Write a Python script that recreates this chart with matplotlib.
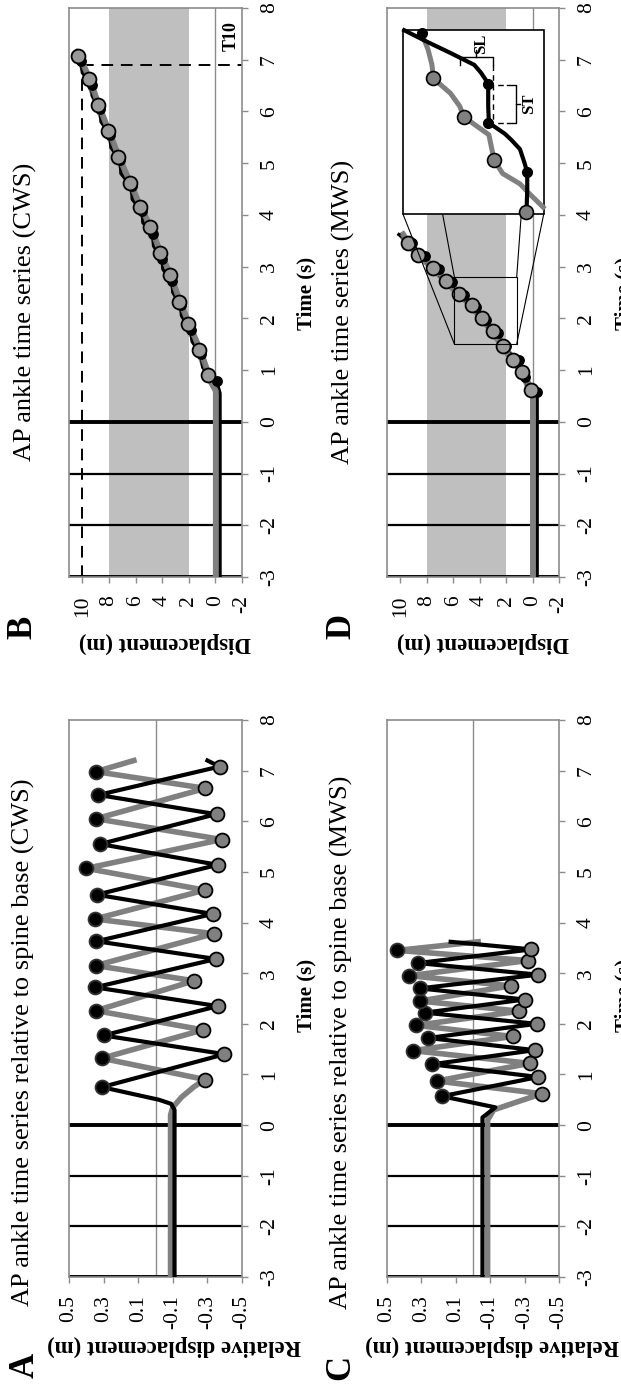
import matplotlib
matplotlib.use("Agg")
import matplotlib.pyplot as plt
from matplotlib.patches import Rectangle

plt.rcParams['font.family'] = ['Liberation Serif', 'DejaVu Serif']

# ---------------- data ----------------
time_ticks = [-3, -2, -1, 0, 1, 2, 3, 4, 5, 6, 7, 8]
rel_ticks = [0.5, 0.3, 0.1, -0.1, -0.3, -0.5]
rel_tick_labels = ["0.5", "0.3", "0.1", "-0.1", "-0.3", "-0.5"]
disp_ticks = [10, 8, 6, 4, 2, 0, -2]
event_lines_t = [-3, -2, -1, 0]
event_lines_w = [2.8, 1.6, 1.6, 2.8]

# Panel A: CWS relative displacement
A_black_t = [-3, 0.3, 0.42, 0.5, 0.75, 1.4, 1.77, 2.35, 2.72, 3.28, 3.63, 4.17, 4.55, 5.14, 5.55, 6.14, 6.52, 7.08, 7.2]
A_black_d = [-0.11, -0.11, -0.09, -0.02, 0.31, -0.40, 0.30, -0.36, 0.35, -0.35, 0.34, -0.33, 0.34, -0.36, 0.32, -0.35, 0.33, -0.37, -0.30]
A_gray_t = [-3, 0.2, 0.35, 0.55, 0.75, 0.9, 1.32, 1.88, 2.26, 2.85, 3.15, 3.78, 4.07, 4.64, 5.07, 5.64, 6.05, 6.65, 6.98, 7.2]
A_gray_d = [-0.087, -0.087, -0.1, -0.15, -0.22, -0.285, 0.31, -0.275, 0.344, -0.223, 0.346, -0.338, 0.35, -0.285, 0.40, -0.383, 0.344, -0.289, 0.344, 0.125]
A_peak_t = [0.75, 1.32, 1.77, 2.26, 2.72, 3.15, 3.63, 4.07, 4.55, 5.07, 5.55, 6.05, 6.52, 6.98]
A_peak_d = [0.31, 0.31, 0.295, 0.344, 0.348, 0.346, 0.344, 0.35, 0.336, 0.40, 0.32, 0.344, 0.33, 0.344]
A_trough_t = [0.9, 1.4, 1.88, 2.35, 2.85, 3.28, 3.78, 4.17, 4.64, 5.14, 5.64, 6.14, 6.65, 7.08]
A_trough_d = [-0.285, -0.398, -0.275, -0.363, -0.223, -0.348, -0.338, -0.332, -0.285, -0.363, -0.383, -0.353, -0.289, -0.373]

# Panel C: MWS relative displacement
C_black_t = [-3, 0.15, 0.35, 0.57, 0.95, 1.2, 1.48, 1.72, 2.0, 2.22, 2.48, 2.70, 2.97, 3.2, 3.47, 3.62]
C_black_d = [-0.055, -0.055, -0.13, 0.18, -0.38, 0.24, -0.36, 0.26, -0.37, 0.28, -0.30, 0.31, -0.38, 0.32, -0.34, 0.13]
C_gray_t = [-3, 0.1, 0.3, 0.45, 0.62, 0.87, 1.22, 1.47, 1.75, 1.97, 2.25, 2.45, 2.75, 2.95, 3.25, 3.45, 3.62]
C_gray_d = [-0.085, -0.085, -0.12, -0.25, -0.40, 0.21, -0.33, 0.35, -0.23, 0.33, -0.27, 0.31, -0.22, 0.37, -0.32, 0.44, -0.03]
C_peak_t = [0.57, 0.87, 1.2, 1.47, 1.72, 1.97, 2.22, 2.45, 2.70, 2.95, 3.2, 3.45]
C_peak_d = [0.18, 0.21, 0.24, 0.35, 0.26, 0.33, 0.28, 0.31, 0.31, 0.37, 0.32, 0.44]
C_trough_t = [0.62, 0.95, 1.22, 1.48, 1.75, 2.0, 2.25, 2.48, 2.75, 2.97, 3.25, 3.47]
C_trough_d = [-0.40, -0.38, -0.33, -0.36, -0.23, -0.37, -0.27, -0.30, -0.22, -0.38, -0.32, -0.34]

# Panel B: CWS displacement
B_black_t = [-3, 0.55, 0.78, 1.05, 1.32, 1.55, 1.77, 2.05, 2.26, 2.5, 2.72, 2.95, 3.15, 3.4, 3.63, 3.85, 4.07, 4.3, 4.55, 4.8, 5.07, 5.3, 5.55, 5.8, 6.05, 6.3, 6.52, 6.75, 6.98, 7.15]
B_black_d = [-0.35, -0.35, -0.1, 0.95, 1.1, 1.75, 1.85, 2.55, 2.6, 3.2, 3.25, 3.95, 4.0, 4.65, 4.7, 5.45, 5.5, 6.25, 6.3, 7.1, 7.15, 7.85, 7.9, 8.6, 8.65, 9.25, 9.3, 10.0, 10.1, 10.4]
B_gray_t = [-3, 0.6, 0.9, 1.39, 1.89, 2.32, 2.83, 3.26, 3.77, 4.15, 4.61, 5.12, 5.63, 6.12, 6.63, 7.07, 7.12]
B_gray_d = [-0.1, -0.1, 0.55, 1.21, 2.04, 2.72, 3.42, 4.18, 4.93, 5.69, 6.44, 7.32, 8.08, 8.83, 9.51, 10.29, 10.45]
B_hs_t = [0.78, 1.32, 1.77, 2.26, 2.72, 3.15, 3.63, 4.07, 4.55, 5.07, 5.55, 6.05, 6.52, 6.98]
B_hs_d = [-0.1, 1.1, 1.85, 2.6, 3.25, 4.0, 4.7, 5.5, 6.3, 7.15, 7.9, 8.65, 9.3, 10.1]
B_to_t = [0.9, 1.39, 1.89, 2.32, 2.83, 3.26, 3.77, 4.15, 4.61, 5.12, 5.63, 6.12, 6.63, 7.07]
B_to_d = [0.55, 1.21, 2.04, 2.72, 3.42, 4.18, 4.93, 5.69, 6.44, 7.32, 8.08, 8.83, 9.51, 10.29]
B_t10_disp = 10
B_t10_time = 6.9

# Panel D: MWS displacement
D_black_t = [-3, 0.45, 0.57, 0.75, 0.87, 1.05, 1.2, 1.35, 1.47, 1.6, 1.72, 1.85, 1.97, 2.1, 2.22, 2.35, 2.45, 2.58, 2.70, 2.82, 2.95, 3.08, 3.2, 3.33, 3.45, 3.62]
D_black_d = [-0.35, -0.35, -0.3, 0.45, 0.6, 0.95, 1.0, 1.9, 2.0, 2.5, 2.6, 3.4, 3.5, 4.2, 4.3, 5.1, 5.2, 6.0, 6.1, 7.0, 7.1, 8.0, 8.1, 9.0, 9.1, 10.1]
D_gray_t = [-3, 0.5, 0.62, 0.96, 1.19, 1.47, 1.75, 2.0, 2.26, 2.47, 2.72, 2.98, 3.23, 3.46, 3.6]
D_gray_d = [-0.1, -0.1, 0.15, 0.78, 1.46, 2.26, 2.96, 3.84, 4.6, 5.53, 6.53, 7.49, 8.62, 9.45, 9.8]
D_hs_t = [0.57, 0.87, 1.2, 1.47, 1.72, 1.97, 2.22, 2.45, 2.70, 2.95, 3.2, 3.45]
D_hs_d = [-0.3, 0.6, 1.0, 2.0, 2.6, 3.5, 4.3, 5.2, 6.1, 7.1, 8.1, 9.1]
D_to_t = [0.62, 0.96, 1.19, 1.47, 1.75, 2.0, 2.26, 2.47, 2.72, 2.98, 3.23, 3.46]
D_to_d = [0.15, 0.78, 1.46, 2.26, 2.96, 3.84, 4.6, 5.53, 6.53, 7.49, 8.62, 9.45]
# zoom inset in panel D (drawn in D's data units)
ins_box_d = [9.8, -0.85]
ins_box_t = [4.02, 7.57]
src_box_d = [5.9, 1.2]
src_box_t = [1.5, 2.79]
ins_black_t = [4.02, 4.1, 4.5, 4.82, 5.0, 5.27, 5.45, 5.57, 5.78, 6.1, 6.54, 6.75, 6.9, 7.13, 7.35, 7.57]
ins_black_d = [0.6, 0.45, 0.4, 0.4, 0.6, 0.95, 1.6, 2.1, 3.3, 3.35, 3.35, 3.9, 4.4, 6.2, 8.0, 9.7]
ins_gray_t = [4.15, 4.4, 4.6, 4.8, 5.06, 5.3, 5.55, 5.75, 5.9, 6.1, 6.35, 6.64, 6.9, 7.2, 7.52]
ins_gray_d = [-0.8, 0.2, 0.95, 2.26, 2.9, 3.1, 3.3, 4.4, 5.2, 5.5, 6.2, 7.5, 7.6, 7.9, 8.4]
ins_gray_dot_t = [4.06, 5.06, 5.9, 6.64]
ins_gray_dot_d = [0.53, 2.9, 5.2, 7.5]
ins_black_dot_t = [4.82, 5.78, 6.54, 7.52]
ins_black_dot_d = [0.4, 3.34, 3.34, 8.37]

GRAY = '#808080'
BAND = '#bfbfbf'
FRAME = '#8c8c8c'

W, H = 621, 1385
fig = plt.figure(figsize=(W / 100, H / 100), dpi=100)


def add_ax(x0, x1, y0, y1):
    return fig.add_axes([x0 / W, 1 - y1 / H, (x1 - x0) / W, (y1 - y0) / H])


def style(ax, rel):
    ax.set_ylim(-3, 8)
    if rel:
        ax.set_xlim(0.5, -0.5)
        ax.set_xticks(rel_ticks)
        ax.set_xticklabels(rel_tick_labels)
    else:
        ax.set_xlim(11, -2)
        ax.set_xticks(disp_ticks)
        ax.set_xticklabels([str(v) for v in disp_ticks])
    ax.set_yticks(time_ticks)
    ax.set_yticklabels([str(v) for v in time_ticks])
    ax.yaxis.tick_right()
    for s in ax.spines.values():
        s.set_color(FRAME)
        s.set_linewidth(1.2)
    ax.tick_params(axis='both', direction='out', length=4, width=1.0, color=FRAME,
                   labelsize=15.5, pad=9)
    for lab in ax.get_xticklabels():
        lab.set_rotation(90)
        lab.set_va('top')
        lab.set_ha('center')
    for lab in ax.get_yticklabels():
        lab.set_rotation(90)
        lab.set_va('center')
        lab.set_ha('left')
    ax.axvline(0, color=FRAME, lw=1.0, zorder=1)
    for t, w in zip(event_lines_t, event_lines_w):
        ax.axhline(t, color='black', lw=w, zorder=2)


def dots(ax, t, d, face, ms, edge='black'):
    ax.plot(d, t, ls='none', marker='o', ms=ms, mfc=face, mec=edge, mew=1.3, zorder=6)


# ---- A ----
axA = add_ax(69, 242, 720, 1277)
style(axA, True)
axA.plot(A_gray_d, A_gray_t, color=GRAY, lw=4.0, zorder=3, solid_joinstyle='round')
axA.plot(A_black_d, A_black_t, color='black', lw=3.0, zorder=4, solid_joinstyle='round')
dots(axA, A_peak_t, A_peak_d, 'black', 10, '#333333')
dots(axA, A_trough_t, A_trough_d, GRAY, 10)

# ---- C ----
axC = add_ax(387, 559, 720, 1277)
style(axC, True)
axC.plot(C_gray_d, C_gray_t, color=GRAY, lw=4.0, zorder=3, solid_joinstyle='round')
axC.plot(C_black_d, C_black_t, color='black', lw=3.0, zorder=4, solid_joinstyle='round')
dots(axC, C_peak_t, C_peak_d, 'black', 10, '#333333')
dots(axC, C_trough_t, C_trough_d, GRAY, 10)

# ---- B ----
axB = add_ax(69, 242, 8, 577)
style(axB, False)
axB.axvspan(2, 8, color=BAND, zorder=0, lw=0)
axB.plot([B_t10_disp, B_t10_disp], [-3, B_t10_time], color='black', lw=1.4, ls=(0, (6, 4)), zorder=2)
axB.plot([B_t10_disp, -2], [B_t10_time, B_t10_time], color='black', lw=1.4, ls=(0, (6, 4)), zorder=2)
axB.text(-1.15, 7.45, 'T10', rotation=90, ha='center', va='center', fontsize=13, fontweight='bold')
axB.plot(B_gray_d, B_gray_t, color=GRAY, lw=5.5, zorder=3, solid_joinstyle='round')
axB.plot(B_black_d, B_black_t, color='black', lw=2.4, zorder=4, solid_joinstyle='round')
axB.plot(B_gray_d, B_gray_t, color=GRAY, lw=3.0, zorder=4.5, alpha=0.9, solid_joinstyle='round')
dots(axB, B_hs_t, B_hs_d, 'black', 6.5)
dots(axB, B_to_t, B_to_d, '#999999', 10)

# ---- D ----
axD = add_ax(387, 559, 8, 577)
style(axD, False)
axD.axvspan(2, 8, color=BAND, zorder=0, lw=0)
axD.plot(D_gray_d, D_gray_t, color=GRAY, lw=5.5, zorder=3, solid_joinstyle='round')
axD.plot(D_black_d, D_black_t, color='black', lw=2.4, zorder=4, solid_joinstyle='round')
axD.plot(D_gray_d, D_gray_t, color=GRAY, lw=3.0, zorder=4.5, alpha=0.9, solid_joinstyle='round')
dots(axD, D_hs_t, D_hs_d, 'black', 6.5)
dots(axD, D_to_t, D_to_d, '#999999', 10)
# source box and connectors
axD.add_patch(Rectangle((src_box_d[1], src_box_t[0]), src_box_d[0] - src_box_d[1],
                        src_box_t[1] - src_box_t[0], fill=False, ec='black', lw=0.8, zorder=7))
axD.plot([src_box_d[0], ins_box_d[0]], [src_box_t[0], ins_box_t[0]], color='black', lw=0.8, zorder=7)
axD.plot([src_box_d[1], ins_box_d[1]], [src_box_t[0], ins_box_t[0]], color='black', lw=0.8, zorder=7)
axD.plot([src_box_d[0], 6.8], [src_box_t[1], ins_box_t[0]], color='black', lw=0.8, zorder=7)
axD.plot([src_box_d[1], 0.85], [src_box_t[1], ins_box_t[0]], color='black', lw=0.8, zorder=7)
# inset box
axD.add_patch(Rectangle((ins_box_d[1], ins_box_t[0]), ins_box_d[0] - ins_box_d[1],
                        ins_box_t[1] - ins_box_t[0], fc='white', ec='black', lw=1.2, zorder=8))
axD.plot(ins_gray_d, ins_gray_t, color=GRAY, lw=3.6, zorder=9, solid_joinstyle='round')
axD.plot(ins_black_d, ins_black_t, color='black', lw=3.0, zorder=9.5, solid_joinstyle='round')
axD.plot(ins_gray_dot_d, ins_gray_dot_t, ls='none', marker='o', ms=10, mfc=GRAY, mec='black', mew=1.2, zorder=10)
axD.plot(ins_black_dot_d, ins_black_dot_t, ls='none', marker='o', ms=7, mfc='black', mec='black', zorder=10)
# SL bracket
axD.plot([5.5, 5.5, 3.0, 3.0], [6.9, 7.05, 7.05, 6.9], color='black', lw=1.0, zorder=11)
axD.plot([4.25, 4.25], [7.05, 7.18], color='black', lw=1.0, zorder=11)
axD.text(3.9, 7.3, 'SL', rotation=90, ha='center', va='center', fontsize=12, fontweight='bold', zorder=11)
# ST bracket
axD.plot([1.93, 1.25, 1.25, 1.93], [6.51, 6.51, 5.77, 5.77], color='black', lw=1.0, zorder=11)
axD.plot([1.25, 0.95], [6.14, 6.14], color='black', lw=1.0, zorder=11)
axD.text(0.3, 6.14, 'ST', rotation=90, ha='center', va='center', fontsize=12, fontweight='bold', zorder=11)
axD.plot([3.34, 1.93], [6.51, 6.51], color='black', lw=1.0, ls=(0, (4, 3)), zorder=11)
axD.plot([3.34, 1.93], [5.77, 5.77], color='black', lw=1.0, ls=(0, (4, 3)), zorder=11)
axD.plot([3.0, 3.0], [6.9, 5.8], color='black', lw=1.0, ls=(0, (4, 3)), zorder=11)

# ---- text (titles, axis titles, panel letters) ----
def ftext(x, y, s, **kw):
    fig.text(x / W, 1 - y / H, s, **kw)

for dx, title_a, title_b in [(0, 'AP ankle time series relative to spine base (CWS)', 'AP ankle time series (CWS)'),
                             (318, 'AP ankle time series relative to spine base (MWS)', 'AP ankle time series (MWS)')]:
    ftext(23 + dx, 1042, title_a, rotation=90, ha='center', va='center', fontsize=19)
    ftext(25 + dx, 312, title_b, rotation=90, ha='center', va='center', fontsize=19)
    ftext(174 + dx, 1346, 'Relative displacement (m)', rotation=180, ha='center', va='center',
          fontsize=16.5, fontweight='bold')
    ftext(165 + dx, 643, 'Displacement (m)', rotation=180, ha='center', va='center',
          fontsize=16.5, fontweight='bold')
    ftext(306 + dx, 995, 'Time (s)', rotation=90, ha='center', va='center', fontsize=15, fontweight='bold')
    ftext(306 + dx, 293, 'Time (s)', rotation=90, ha='center', va='center', fontsize=15, fontweight='bold')

ftext(25, 1365, 'A', rotation=90, ha='center', va='center', fontsize=25, fontweight='bold')
ftext(23, 627, 'B', rotation=90, ha='center', va='center', fontsize=25, fontweight='bold')
ftext(341, 1367, 'C', rotation=90, ha='center', va='center', fontsize=25, fontweight='bold')
ftext(342, 626, 'D', rotation=90, ha='center', va='center', fontsize=25, fontweight='bold')

fig.savefig('out.png', dpi=100)
